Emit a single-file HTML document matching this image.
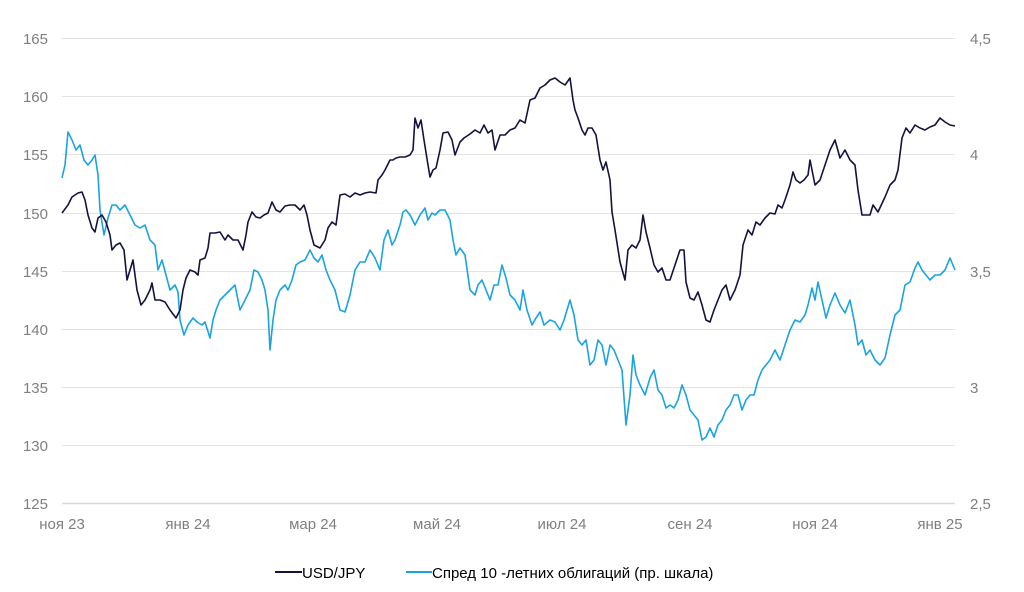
<!DOCTYPE html>
<html><head><meta charset="utf-8"><style>
html,body{margin:0;padding:0;background:#fff;width:1024px;height:592px;overflow:hidden}
svg text{font-family:"Liberation Sans",sans-serif}
</style></head><body>
<svg width="1024" height="592" xmlns="http://www.w3.org/2000/svg">
<g stroke="#e3e3e3" stroke-width="1">
<line x1="62" x2="955" y1="38.5" y2="38.5"/><line x1="62" x2="955" y1="96.5" y2="96.5"/>
<line x1="62" x2="955" y1="154.5" y2="154.5"/><line x1="62" x2="955" y1="213.5" y2="213.5"/>
<line x1="62" x2="955" y1="271.5" y2="271.5"/><line x1="62" x2="955" y1="329.5" y2="329.5"/>
<line x1="62" x2="955" y1="387.5" y2="387.5"/><line x1="62" x2="955" y1="445.5" y2="445.5"/>
</g>
<line x1="62" x2="955" y1="503.5" y2="503.5" stroke="#d9d9d9" stroke-width="1.5"/>
<g fill="#7f7f7f" font-size="15" text-anchor="end">
<text x="48" y="44">165</text><text x="48" y="102">160</text><text x="48" y="160">155</text>
<text x="48" y="219">150</text><text x="48" y="277">145</text><text x="48" y="335">140</text>
<text x="48" y="393">135</text><text x="48" y="451">130</text><text x="48" y="509">125</text>
</g>
<g fill="#7f7f7f" font-size="15" text-anchor="start">
<text x="970" y="44">4,5</text><text x="970" y="160">4</text><text x="970" y="277">3,5</text>
<text x="970" y="393">3</text><text x="970" y="509">2,5</text>
</g>
<g fill="#7f7f7f" font-size="15" text-anchor="middle">
<text x="62" y="529">ноя 23</text><text x="188" y="529">янв 24</text><text x="313" y="529">мар 24</text>
<text x="437" y="529">май 24</text><text x="562" y="529">июл 24</text><text x="690" y="529">сен 24</text>
<text x="815" y="529">ноя 24</text><text x="940" y="529">янв 25</text>
</g>
<polyline fill="none" stroke="#1aa3e0" stroke-width="1.6" stroke-linejoin="round" points="62,178 65,165 68,132 72,140 76,150 80,145 84,160 88,165 92,160 95,155 98,175 100,210 104,235 108,218 112,205 116,205 120,210 125,205 130,215 135,225 140,228 145,225 150,240 155,245 158,270 162,260 166,275 170,290 175,285 178,292 180,320 184,335 188,325 193,318 197,322 202,325 205,322 210,338 213,320 216,310 220,300 225,295 230,290 235,285 240,310 245,300 250,290 254,270 258,272 262,280 265,290 268,310 270,350 273,320 276,300 280,290 285,285 288,290 292,280 296,265 300,262 305,260 310,250 314,258 318,262 322,255 326,270 330,280 335,290 340,310 345,312 350,295 355,270 360,262 365,262 370,250 375,258 380,270 384,240 388,230 392,245 395,240 400,225 403,212 406,210 410,215 415,225 420,215 425,208 428,220 432,213 435,215 440,210 445,210 450,220 453,240 456,255 460,248 465,255 470,290 475,295 478,285 482,280 486,290 490,300 494,285 498,285 502,265 506,278 510,295 515,300 520,310 523,290 527,310 532,325 536,318 540,312 544,325 550,320 555,322 560,330 564,320 570,300 574,315 578,340 582,345 586,340 590,365 594,360 598,340 602,345 606,365 610,345 614,350 618,360 622,370 626,425 630,395 633,355 636,375 640,385 645,395 650,378 654,370 658,390 662,395 666,408 670,405 674,408 678,400 682,385 686,395 690,410 694,415 698,420 702,440 706,437 710,428 714,437 718,425 722,420 726,410 730,405 734,395 738,395 742,410 746,400 750,395 754,395 758,380 762,370 766,365 770,360 775,350 780,360 785,345 790,330 795,320 800,322 805,315 808,305 812,288 815,300 818,282 822,300 826,318 830,305 835,293 840,305 845,313 850,300 855,325 858,345 862,340 866,355 870,350 875,360 880,365 885,358 890,335 895,315 900,310 905,285 910,282 915,268 918,262 922,270 926,275 930,280 935,275 940,275 945,270 950,258 955,270"/>
<polyline fill="none" stroke="#14123f" stroke-width="1.6" stroke-linejoin="round" points="62,213 68,205 72,197 78,193 82,192 85,200 88,215 92,228 95,232 98,218 102,215 106,222 110,235 112,250 116,245 120,243 124,250 127,280 130,270 133,260 137,290 141,305 145,300 150,290 152,283 155,300 160,300 165,302 170,310 176,318 180,310 183,290 186,278 190,270 195,272 198,275 200,260 205,258 208,248 210,233 215,233 220,232 225,240 228,235 233,240 238,240 243,250 246,235 248,222 252,212 256,217 260,218 264,215 268,213 272,202 276,210 280,212 285,206 290,205 295,205 300,210 304,205 307,215 310,230 314,245 320,248 325,240 328,228 332,222 336,225 340,195 345,194 350,197 355,193 360,195 365,193 370,192 376,193 378,180 382,175 385,170 390,160 393,160 396,158 400,157 405,157 410,155 413,150 415,118 418,128 421,120 424,140 428,165 430,177 433,170 436,168 440,150 443,133 448,132 452,140 455,155 460,142 464,138 470,134 475,130 480,133 484,125 488,133 492,130 495,150 500,135 505,135 510,130 515,128 520,120 525,123 530,100 535,98 540,88 545,85 550,80 555,78 560,82 565,85 570,78 573,100 575,110 578,118 582,130 585,135 588,128 592,128 596,135 600,160 603,170 606,162 610,180 612,212 615,230 620,262 625,280 628,250 632,245 636,248 640,240 643,215 646,232 650,248 654,265 658,272 662,268 666,280 670,280 675,265 680,250 684,250 686,282 690,298 694,300 698,292 702,305 706,320 710,322 714,310 718,300 722,290 726,285 730,300 735,290 740,275 743,245 748,230 752,235 756,222 760,225 765,218 770,213 775,214 778,205 782,208 785,200 790,185 793,172 796,180 800,183 804,180 808,175 810,160 815,185 820,180 825,165 830,150 835,140 840,158 845,150 850,160 855,165 858,190 862,215 866,215 870,215 873,205 878,212 885,197 890,185 895,180 898,170 902,138 906,128 910,133 915,125 920,128 925,130 930,127 935,125 940,118 945,122 950,125 955,126"/>
<line x1="275" x2="302" y1="572" y2="572" stroke="#14123f" stroke-width="2"/>
<text x="302" y="578" font-size="15" fill="#000">USD/JPY</text>
<line x1="406" x2="432" y1="572" y2="572" stroke="#1aa3e0" stroke-width="2"/>
<text x="432" y="578" font-size="15" fill="#000">Спред 10 -летних облигаций (пр. шкала)</text>
</svg>
</body></html>
